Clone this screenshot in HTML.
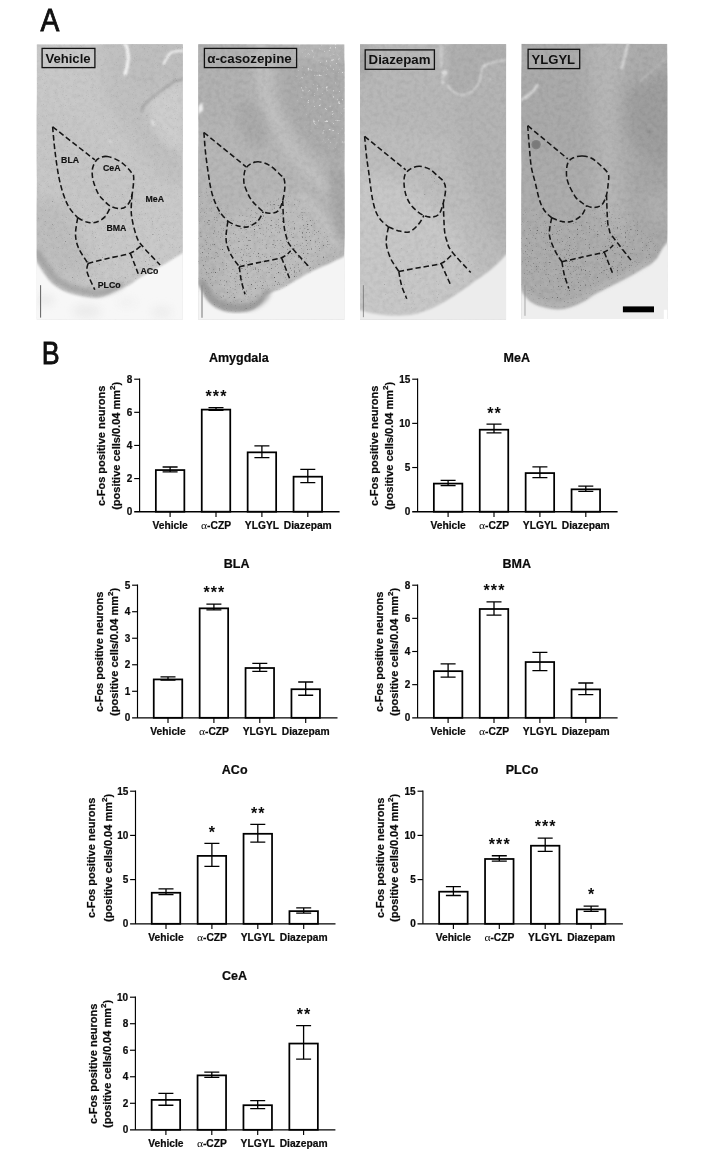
<!DOCTYPE html>
<html><head><meta charset="utf-8"><title>Figure</title>
<style>
html,body{margin:0;padding:0;background:#fff}
body{width:701px;height:1155px;overflow:hidden;font-family:"Liberation Sans", sans-serif}
svg text{font-family:"Liberation Sans", sans-serif;fill:#111}
.ch text{stroke:#111;stroke-width:0.22px;fill:#0a0a0a}
.ch text tspan.al{stroke:none}
#fig{will-change:transform}
</style></head>
<body>
<svg width="701" height="1155" id="fig" viewBox="0 0 701 1155" style="display:block">
<rect width="701" height="1155" fill="#fff"/>
<text transform="translate(40.5 31.4) scale(0.9 1)" font-size="31.4" fill="#0c0c0c" stroke="#0c0c0c" stroke-width="0.8">A</text>
<text transform="translate(41.8 363.9) scale(0.86 1)" font-size="31.2" fill="#0c0c0c" stroke="#0c0c0c" stroke-width="0.8">B</text>
<defs>
<filter id="b2" x="-20%" y="-20%" width="140%" height="140%"><feGaussianBlur stdDeviation="2"/></filter>
<filter id="b4" x="-30%" y="-30%" width="160%" height="160%"><feGaussianBlur stdDeviation="4"/></filter>
<filter id="b8" x="-40%" y="-40%" width="180%" height="180%"><feGaussianBlur stdDeviation="8"/></filter>
<filter id="b1" x="-20%" y="-20%" width="140%" height="140%"><feGaussianBlur stdDeviation="0.8"/></filter>
<filter id="grain" x="0" y="0" width="100%" height="100%">
<feTurbulence type="fractalNoise" baseFrequency="0.9" numOctaves="2" seed="7" result="n"/>
<feColorMatrix type="matrix" values="0 0 0 0 0  0 0 0 0 0  0 0 0 0 0  4 0 0 0 -2.55"/>
</filter>
<filter id="grain2" x="0" y="0" width="100%" height="100%">
<feTurbulence type="fractalNoise" baseFrequency="0.33" numOctaves="2" seed="3" result="n"/>
<feColorMatrix in="n" type="matrix" values="0 0 0 0 1  0 0 0 0 1  0 0 0 0 1  6 0 0 0 -4.0" result="d"/>
<feGaussianBlur in="SourceAlpha" stdDeviation="7" result="m"/>
<feComposite in="d" in2="m" operator="in"/>
</filter>
<filter id="specks" x="0" y="0" width="100%" height="100%">
<feTurbulence type="fractalNoise" baseFrequency="0.75" numOctaves="1" seed="11" result="n"/>
<feColorMatrix in="n" type="matrix" values="0 0 0 0 0.1  0 0 0 0 0.1  0 0 0 0 0.1  7 0 0 0 -4.6" result="d"/>
<feGaussianBlur in="SourceAlpha" stdDeviation="5" result="m"/>
<feComposite in="d" in2="m" operator="in"/>
</filter>
<filter id="specks2" x="0" y="0" width="100%" height="100%">
<feTurbulence type="fractalNoise" baseFrequency="0.7" numOctaves="1" seed="23" result="n"/>
<feColorMatrix in="n" type="matrix" values="0 0 0 0 0.12  0 0 0 0 0.12  0 0 0 0 0.12  0 7 0 0 -4.9" result="d"/>
<feGaussianBlur in="SourceAlpha" stdDeviation="6" result="m"/>
<feComposite in="d" in2="m" operator="in"/>
</filter>
<filter id="mottle" x="0" y="0" width="100%" height="100%">
<feTurbulence type="fractalNoise" baseFrequency="0.22" numOctaves="3" seed="5" result="n"/>
<feColorMatrix in="n" type="matrix" values="0 0 0 0 0  0 0 0 0 0  0 0 0 0 0  1.6 0 0 0 -0.62"/>
</filter>
<filter id="mottleW" x="0" y="0" width="100%" height="100%">
<feTurbulence type="fractalNoise" baseFrequency="0.25" numOctaves="3" seed="9" result="n"/>
<feColorMatrix in="n" type="matrix" values="0 0 0 0 1  0 0 0 0 1  0 0 0 0 1  0 1.6 0 0 -0.62"/>
</filter>
</defs>
<svg x="36.6" y="44.2" width="146.2" height="275.6" viewBox="0 0 146.2 275.6" overflow="hidden">
<rect width="146.2" height="275.6" fill="#c8c8c8"/>
<g filter="url(#b8)">
<path d="M60 -10 L150 -10 L150 150 L120 130 L95 95 L70 60Z" fill="#c0c0c0"/>
<path d="M-10 60 L40 70 L90 120 L110 180 L60 170 L-10 120Z" fill="#c6c6c6"/>
<path d="M-10 150 L30 160 L60 230 L20 235 L-10 200Z" fill="#bdbdbd"/>
<path d="M100 150 L150 140 L150 215 L110 220Z" fill="#c9c9c9"/>
</g>
<path d="M93 -2 L148 -2 L148 33 L125 42 L112 52 L101 37 L94 30Z" fill="#bebebe" filter="url(#b2)"/>
<path d="M112 55 L126 47 L138 39 L148 37 L148 110 L128 100 L112 75Z" fill="#cdcdcd" filter="url(#b4)"/>
<g filter="url(#b1)" fill="none" stroke-linecap="round">
<path d="M88.3 -1 C91.5 5 92.2 10 91.6 16 S90 26 88.6 29.5" stroke="#f4f4f4" stroke-width="3.4"/>
<path d="M127 19.5 L133 9.5 Q136 6.8 147 6.6" stroke="#eeeeee" stroke-width="2.6"/>
<path d="M104.7 66.8 Q106.5 60.5 111.3 57.3 Q118 50.5 125.7 45.3 T137.7 36.9 L147 35" stroke="#a4a4a4" stroke-width="2.7" opacity="0.85"/>
<path d="M94 30.5 Q96 34.5 101 35.3 L117 34.6" stroke="#b0b0b0" stroke-width="1.2"/>
<path d="M115.6 76.6 L117.2 81" stroke="#f2f2f2" stroke-width="1.3"/>
<path d="M73 96.5 L74 97.5" stroke="#e8e8e8" stroke-width="1.5"/>
</g>
<rect width="146.2" height="275.6" filter="url(#grain)" opacity="0.09"/>
<rect width="146.2" height="275.6" filter="url(#mottle)" opacity="0.05"/><rect width="146.2" height="275.6" filter="url(#mottleW)" opacity="0.05"/>
<path d="M0 140 L40 150 L95 150 L140 190 L146 215 L100 236 L60 254 L30 247 L0 215Z" fill="#000" filter="url(#specks2)" opacity="0.55"/>
<path d="M-3.0 211.0C-1.9 213.0 0.3 218.3 3.4 223.0C6.5 227.7 11.1 234.9 15.4 239.0C19.7 243.1 24.8 245.5 29.4 247.6C34.0 249.7 38.3 250.5 43.3 251.5C48.3 252.5 54.6 253.7 59.3 253.5C64.0 253.3 67.3 252.0 71.3 250.5C75.3 249.0 79.6 246.2 83.3 244.6C87.0 242.9 90.0 242.4 93.3 240.6C96.6 238.8 98.3 236.6 103.3 233.6C108.3 230.6 116.6 226.4 123.2 222.6C129.8 218.8 138.7 213.4 143.2 210.6C147.7 207.8 148.9 206.8 150.0 206.0 L150 290 L-5 290Z" fill="#f7f7f7" filter="url(#b1)"/>
<g filter="url(#b4)" opacity="0.6"><ellipse cx="9" cy="256" rx="8" ry="5" fill="#dedede"/><ellipse cx="50" cy="267" rx="14" ry="7" fill="#e3e3e3"/><ellipse cx="125" cy="268" rx="10" ry="6" fill="#e6e6e6"/><ellipse cx="90" cy="258" rx="10" ry="4" fill="#ebebeb"/></g>
<path d="M-3.0 211.0C-1.9 213.0 0.3 218.3 3.4 223.0C6.5 227.7 11.1 234.9 15.4 239.0C19.7 243.1 24.8 245.5 29.4 247.6C34.0 249.7 38.3 250.5 43.3 251.5C48.3 252.5 54.6 253.7 59.3 253.5C64.0 253.3 67.3 252.0 71.3 250.5C75.3 249.0 81.3 245.6 83.3 244.6" fill="none" stroke="#8c8c8c" stroke-width="7" filter="url(#b2)" opacity="0.55" transform="translate(3,-5)"/>
<g fill="none" stroke="#161616" stroke-width="1.55" stroke-dasharray="5.5 2.9" stroke-linejoin="round"><path d="M16.0 82.6C16.4 86.8 17.4 99.6 18.5 108.0C19.6 116.4 20.8 125.9 22.3 133.2C23.8 140.5 25.6 146.8 27.4 151.9C29.2 157.0 30.7 160.4 33.0 164.0C35.3 167.6 39.8 172.0 41.1 173.6"/><path d="M16.0 82.6L58.3 115.7"/><path d="M41.1 173.6C42.6 174.3 47.0 177.1 50.0 177.8C53.0 178.6 56.3 179.0 59.4 178.1C62.5 177.2 66.0 175.1 68.5 172.4C71.0 169.7 73.2 163.8 74.2 162.1"/><path d="M70.8 112.3C66.9 111.8 63.5 113.0 61.0 115.0C58.5 117.0 56.8 120.5 56.0 124.0C55.2 127.5 55.5 131.7 56.5 136.0C57.5 140.3 59.8 146.1 61.7 149.6C63.6 153.1 65.9 154.9 68.0 157.0C70.1 159.1 71.5 160.9 74.2 162.1C77.0 163.3 81.6 164.8 84.5 164.4C87.4 164.1 89.7 162.4 91.5 160.0C93.3 157.6 94.6 154.4 95.5 150.0C96.4 145.6 97.2 137.2 97.1 133.6C97.0 130.0 96.9 130.9 94.8 128.3C92.7 125.7 88.5 120.7 84.5 118.0C80.5 115.3 74.7 112.8 70.8 112.3Z"/><path d="M95.5 150.0C95.4 153.3 94.1 163.3 94.8 170.1C95.5 176.9 97.7 185.4 99.4 190.6C101.1 195.8 101.1 196.0 105.1 201.0C109.1 206.0 120.4 217.5 123.5 220.8"/><path d="M41.1 173.6C40.7 176.4 38.7 185.5 38.9 190.6C39.1 195.7 40.1 199.6 42.2 204.4C44.3 209.2 49.9 216.7 51.4 219.2"/><path d="M51.4 219.2C54.8 218.3 65.0 215.7 72.0 214.0C79.0 212.3 88.2 211.1 93.7 208.9C99.2 206.7 103.2 202.3 105.1 201.0"/><path d="M51.4 219.2C51.3 220.7 49.5 223.6 50.6 228.0C51.7 232.4 56.9 242.6 58.2 245.5"/><path d="M93.7 208.9L101.6 229.5"/></g>
<g font-size="8.75" font-weight="bold" fill="#0c0c0c" stroke="#0c0c0c" stroke-width="0.15"><text x="24.5" y="118.8">BLA</text><text x="66.4" y="126.8">CeA</text><text x="108.9" y="157.9">MeA</text><text x="69.9" y="186.9">BMA</text><text x="103.8" y="229.6">ACo</text><text x="61.2" y="244">PLCo</text></g>
<path d="M4.0 241V273.4" stroke="#3a3a3a" stroke-width="0.8"/>
<rect x="5.5" y="4.2" width="52.8" height="19.2" fill="none" stroke="#111" stroke-width="1.3"/>
<text x="31.4" y="18.450000000000003" text-anchor="middle" font-size="13.1" font-weight="bold" fill="#0a0a0a">Vehicle</text>
</svg>
<svg x="198.2" y="44.2" width="146.6" height="275.6" viewBox="0 0 146.6 275.6" overflow="hidden">
<rect width="146.2" height="275.6" fill="#b5b5b5"/>
<g filter="url(#b8)">
<path d="M-10 -10 L50 -10 L55 60 L20 80 L-10 70Z" fill="#b1b1b1"/>
<path d="M-10 100 L40 105 L80 150 L80 200 L20 190 L-10 150Z" fill="#b6b6b6"/>
<path d="M30 170 L95 150 L135 200 L110 235 L60 262 L20 250Z" fill="#bdbdbd"/>
</g>
<g filter="url(#b4)">
<path d="M82 18 L148 18 L148 122 L122 112 L97 86 L82 55Z" fill="#ababab"/>
<ellipse cx="54" cy="80" rx="13" ry="25" transform="rotate(-22 54 80)" fill="#a9a9a9"/>
<path d="M66 -5 Q58 40 84 89 T150 152" fill="none" stroke="#c0c0c0" stroke-width="13"/>
<path d="M128 120 L150 128 L150 200 L138 195Z" fill="#a6a6a6"/>
<path d="M100 150 Q125 170 140 205" fill="none" stroke="#c4c4c4" stroke-width="8"/>
</g>
<rect width="146.2" height="275.6" filter="url(#mottle)" opacity="0.08"/><rect width="146.2" height="275.6" filter="url(#mottleW)" opacity="0.07"/>
<path d="M0 140 L30 170 L65 160 L88 150 L125 185 L138 212 L100 236 L68 252 L55 268 L28 270 L2 252 L0 245Z" fill="#000" filter="url(#specks)" opacity="0.9"/>
<path d="M-3.0 236.0C-2.5 236.8 -1.2 239.2 0.0 241.0C1.2 242.8 2.3 244.2 4.0 247.0C5.7 249.8 7.6 254.6 10.4 257.6C13.2 260.6 16.7 263.2 20.9 265.0C25.1 266.8 30.4 267.9 35.7 268.1C41.0 268.3 48.0 267.6 52.6 266.0C57.2 264.4 60.6 261.1 63.1 258.6C65.6 256.1 65.8 252.5 67.4 250.8C69.0 249.2 69.8 249.8 72.6 248.7C75.4 247.5 79.9 246.1 84.3 243.9C88.7 241.7 94.1 238.2 99.0 235.4C103.9 232.6 108.5 229.6 113.8 227.0C119.1 224.4 126.5 221.5 130.7 219.6C134.9 217.7 136.7 216.6 139.2 215.4C141.7 214.2 143.7 213.1 145.5 212.2C147.3 211.3 149.2 210.4 150.0 210.0 L150 290 L-5 290Z" fill="#f4f4f4" filter="url(#b1)"/>
<path d="M0.0 241.0C0.7 242.0 2.3 244.2 4.0 247.0C5.7 249.8 7.6 254.6 10.4 257.6C13.2 260.6 16.7 263.2 20.9 265.0C25.1 266.8 30.4 267.9 35.7 268.1C41.0 268.3 48.0 267.6 52.6 266.0C57.2 264.4 60.6 261.1 63.1 258.6C65.6 256.1 66.7 252.1 67.4 250.8" fill="none" stroke="#8e8e8e" stroke-width="7" filter="url(#b2)" opacity="0.7" transform="translate(2.5,-4.5)"/>
<path d="M100 -10 L160 -10 L160 112 L128 100 L104 70 L96 30Z" fill="#000" filter="url(#grain2)" opacity="0.6"/>
<path d="M0 62 L4 58 L5 66 L0 70Z" fill="#eee" filter="url(#b1)"/>
<g fill="none" stroke="#161616" stroke-width="1.55" stroke-dasharray="5.5 2.9" stroke-linejoin="round"><path d="M5.7 88.3C6.0 91.9 6.7 103.0 7.5 110.0C8.3 117.0 9.4 124.6 10.3 130.6C11.2 136.6 11.9 141.3 13.0 146.0C14.1 150.7 15.5 154.9 17.1 158.7C18.7 162.5 20.4 165.9 22.5 169.0C24.6 172.1 28.5 175.7 29.7 177.0"/><path d="M5.7 88.3L47.9 122.6"/><path d="M29.7 177.0C31.2 177.8 35.8 180.6 39.0 181.5C42.2 182.4 45.7 183.4 49.1 182.7C52.5 181.9 56.7 179.6 59.4 177.0C62.1 174.4 64.1 169.0 65.1 167.4"/><path d="M60.5 117.6C57.2 117.3 54.3 118.6 52.0 120.0C49.7 121.4 47.8 123.0 46.8 126.0C45.8 129.0 45.3 134.5 45.7 138.2C46.1 141.9 47.7 145.0 49.0 148.0C50.3 151.0 51.9 154.1 53.6 156.4C55.3 158.7 57.1 160.2 59.0 162.0C60.9 163.8 62.9 166.2 65.1 167.4C67.2 168.6 69.4 169.1 71.9 169.0C74.4 168.9 77.8 168.8 79.9 166.7C82.0 164.6 83.4 160.4 84.5 156.4C85.6 152.4 86.5 146.5 86.7 142.7C86.9 138.9 86.2 135.4 85.6 133.6C85.0 131.8 85.6 133.7 83.3 131.7C81.0 129.7 75.7 123.8 71.9 121.5C68.1 119.2 63.8 117.8 60.5 117.6Z"/><path d="M84.5 156.4C84.7 160.2 85.0 173.4 85.6 179.3C86.2 185.2 86.8 188.2 88.0 192.0C89.2 195.8 88.5 196.8 92.5 202.1C96.5 207.4 108.7 220.2 111.9 223.8"/><path d="M29.7 177.0C29.4 179.2 28.2 186.2 28.0 190.0C27.8 193.8 27.7 196.3 28.5 199.8C29.3 203.3 30.9 207.2 33.0 211.0C35.1 214.8 39.8 220.7 41.1 222.6"/><path d="M41.1 222.6C44.6 221.8 55.0 219.5 62.0 218.0C69.0 216.5 78.2 215.4 83.3 213.5C88.4 211.6 91.0 207.8 92.5 206.7"/><path d="M41.1 222.6C41.4 224.8 42.0 231.4 43.0 236.0C44.0 240.6 46.2 247.7 46.8 250.0"/><path d="M83.3 213.5L91.3 234.1"/></g>
<path d="M3.8 241V273.5" stroke="#8a8a8a" stroke-width="1.2"/>
<rect x="6.2" y="4.2" width="92.2" height="19.2" fill="none" stroke="#111" stroke-width="1.3"/>
<text x="51.300000000000004" y="18.450000000000003" text-anchor="middle" font-size="13.35" font-weight="bold" fill="#0a0a0a">α-casozepine</text>
</svg>
<svg x="360.0" y="44.2" width="146.1" height="275.6" viewBox="0 0 146.1 275.6" overflow="hidden">
<rect width="146.2" height="275.6" fill="#bcbcbc"/>
<g filter="url(#b8)">
<path d="M-10 -10 L160 -10 L160 70 L100 95 L40 85 L-10 80Z" fill="#b7b7b7"/>
<path d="M88 -10 L160 -10 L160 225 L128 185 L100 115Z" fill="#b3b3b3"/>
<path d="M-10 125 L50 140 L95 180 L118 232 L60 285 L-10 285Z" fill="#c7c7c7"/>
<path d="M-10 5 L8 5 L8 30 L-10 30Z" fill="#9a9a9a"/>
</g>
<path d="M90 -5 L150 -5 L150 14 L128 19 L122 24 L120 35 L113 46 L103 50 L93 47 L88 40Z" fill="#aeaeae" filter="url(#b2)"/>
<g filter="url(#b1)" fill="none">
<path d="M87.6 40.1 Q89 45 92.9 47.5 Q98 51.5 103.5 50.7 Q110 49.5 114 45.4 Q119 40 120.4 33.8 L122.5 23.2 Q124 20.5 126.7 20.1 Q136 17 146.5 15.7" stroke="#dedede" stroke-width="1.25"/>
<path d="M81.3 -1 V23" stroke="#cbcbcb" stroke-width="3"/>
<circle cx="84.5" cy="28.5" r="2.7" fill="#e0e0e0"/><circle cx="82.8" cy="38" r="1.8" fill="#dcdcdc"/><circle cx="124.6" cy="21.1" r="1.9" fill="#e0e0e0"/><circle cx="129.9" cy="34.8" r="1.1" fill="#d6d6d6"/>
<circle cx="83" cy="33" r="1.3" fill="#d4d4d4"/>
</g>
<rect width="146.2" height="275.6" filter="url(#mottle)" opacity="0.07"/><rect width="146.2" height="275.6" filter="url(#mottleW)" opacity="0.07"/>
<path d="M48 128 L80 128 L84 165 L55 168Z M20 200 L110 200 L125 230 L60 265 L20 260Z" fill="#000" filter="url(#specks2)" opacity="0.45"/>
<path d="M-3.0 265.5C-2.3 265.6 -0.5 266.0 1.0 266.3C2.5 266.6 4.0 266.8 6.0 267.3C8.0 267.8 8.4 268.5 12.7 269.2C17.0 269.9 25.0 271.1 31.7 271.3C38.4 271.5 46.5 271.4 52.8 270.3C59.1 269.2 64.4 267.1 69.7 265.0C75.0 262.9 79.6 260.4 84.5 257.6C89.4 254.8 94.3 251.4 99.2 248.1C104.1 244.8 109.1 241.0 114.0 237.5C118.9 234.0 124.6 230.3 128.8 227.0C133.0 223.7 136.6 220.2 139.4 217.5C142.2 214.8 143.9 212.8 145.7 211.1C147.5 209.3 149.3 207.7 150.0 207.0 L150 290 L-5 290Z" fill="#ececec" filter="url(#b1)"/>
<g fill="none" stroke="#161616" stroke-width="1.55" stroke-dasharray="5.5 2.9" stroke-linejoin="round"><path d="M4.6 92.2C4.9 95.5 5.8 105.6 6.5 112.0C7.2 118.4 8.5 125.9 9.1 130.6C9.7 135.3 9.7 136.3 10.3 140.4C10.9 144.5 11.6 150.4 12.5 155.0C13.4 159.6 14.6 164.3 16.0 167.8C17.4 171.3 18.9 173.5 21.0 176.0C23.1 178.5 27.2 181.6 28.5 182.7"/><path d="M4.6 92.2L45.7 125.6"/><path d="M28.5 182.7C30.1 183.3 34.6 185.7 38.0 186.5C41.4 187.3 45.7 188.7 49.1 187.7C52.5 186.7 55.7 183.1 58.2 180.4C60.7 177.7 63.0 172.8 63.9 171.3"/><path d="M59.4 122.1C56.3 122.0 53.4 123.1 51.0 124.5C48.6 125.9 46.1 127.9 45.0 130.6C43.9 133.2 43.9 137.0 44.1 140.4C44.3 143.8 45.0 147.8 46.0 151.0C47.0 154.2 48.5 157.3 50.2 159.9C52.0 162.5 54.2 164.6 56.5 166.5C58.8 168.4 61.5 170.2 63.9 171.3C66.3 172.4 68.3 173.1 70.8 172.9C73.3 172.7 76.7 172.5 78.8 170.1C80.9 167.7 82.2 162.9 83.3 158.7C84.4 154.5 85.6 148.6 85.6 145.0C85.6 141.4 84.6 139.2 83.3 137.0C82.0 134.8 79.9 133.7 77.6 131.7C75.3 129.7 72.6 126.5 69.6 124.9C66.6 123.3 62.5 122.2 59.4 122.1Z"/><path d="M83.3 158.7C83.5 163.3 83.9 179.7 84.5 186.1C85.1 192.5 85.9 193.6 87.0 197.0C88.1 200.4 87.3 201.5 91.3 206.7C95.2 211.9 107.5 224.7 110.7 228.3"/><path d="M28.5 182.7C28.2 184.4 26.8 189.8 26.5 193.0C26.2 196.2 25.9 198.4 26.7 202.1C27.4 205.8 29.0 210.8 31.0 215.0C33.0 219.2 37.5 225.2 38.8 227.2"/><path d="M38.8 227.2C42.3 226.5 53.0 224.6 60.0 223.3C67.0 222.0 75.8 221.2 81.0 219.2C86.2 217.2 89.6 212.5 91.3 211.2"/><path d="M38.8 227.2C39.2 229.5 40.2 236.4 41.5 241.0C42.8 245.6 45.9 252.3 46.8 254.6"/><path d="M81.0 219.2L90.2 239.8"/></g>
<path d="M3.4 241V273" stroke="#555" stroke-width="0.6"/>
<rect x="5.2" y="5.7" width="69.2" height="19.4" fill="none" stroke="#111" stroke-width="1.3"/>
<text x="39.50000000000001" y="19.65" text-anchor="middle" font-size="13.25" font-weight="bold" fill="#0a0a0a">Diazepam</text>
</svg>
<svg x="521.3" y="43.8" width="146.1" height="275.3" viewBox="0 0 146.1 275.3" overflow="hidden">
<rect width="146.2" height="275.6" fill="#ababab"/>
<g filter="url(#b8)">
<path d="M66 -10 L104 -10 L100 40 L97 85 L100 140 L104 200 L70 200 L76 120 L70 50Z" fill="#b6b6b6"/>
<path d="M102 45 L160 20 L160 125 L125 118 L104 90Z" fill="#9d9d9d"/>
<path d="M-10 25 L60 30 L66 110 L-10 120Z" fill="#a9a9a9"/>
<path d="M-10 130 L60 140 L100 200 L80 262 L-10 245Z" fill="#acacac"/>
<path d="M110 120 L160 125 L160 200 L122 192Z" fill="#a5a5a5"/>
<path d="M122 150 L150 150 L150 185 L128 180Z" fill="#b0b0b0"/>
</g>
<g filter="url(#b1)" fill="none" stroke-linecap="round">
<path d="M106.8 -1 Q105 7 103.5 12.7 T100.4 24" stroke="#d9d9d9" stroke-width="2.6"/>
<path d="M-1 56 Q4.5 54 8.4 50.7 T15.6 41.6" stroke="#d6d6d6" stroke-width="3"/>
<path d="M118.2 38 L135.1 23.2 L147.8 11.6" stroke="#b9b9b9" stroke-width="1.6"/>
<circle cx="128" cy="88" r="2" fill="#8e8e8e" stroke="none"/>
</g>
<rect width="146.2" height="275.6" filter="url(#mottle)" opacity="0.08"/><rect width="146.2" height="275.6" filter="url(#mottleW)" opacity="0.06"/>
<path d="M0 165 L30 174 L60 175 L90 160 L140 200 L135 212 L117 227 L83 246 L53 263 L19 264 L0 246Z" fill="#000" filter="url(#specks)" opacity="0.85"/>
<path d="M-3.0 242.0C-2.5 242.7 -0.8 245.2 0.0 246.4C0.8 247.7 0.7 247.8 2.1 249.5C3.5 251.2 5.6 254.8 8.4 256.9C11.2 259.0 14.4 260.8 19.0 262.2C23.6 263.6 30.6 265.3 35.9 265.4C41.2 265.5 46.1 264.0 50.7 262.6C55.3 261.2 59.4 259.0 63.3 256.9C67.2 254.8 69.7 252.4 73.9 250.0C78.1 247.6 83.4 245.1 88.7 242.4C94.0 239.7 100.7 236.5 105.6 233.9C110.5 231.3 114.3 228.9 118.2 226.7C122.1 224.4 126.0 222.3 128.8 220.4C131.6 218.5 133.6 216.7 135.1 215.1C136.6 213.5 136.6 212.9 137.7 211.1C138.8 209.3 140.2 206.1 141.5 204.1C142.8 202.1 144.3 200.4 145.7 198.9C147.1 197.4 149.3 195.7 150.0 195.0 L150 290 L-5 290Z" fill="#eeeeee" filter="url(#b1)"/>
<path d="M0.0 246.4C0.4 246.9 0.7 247.8 2.1 249.5C3.5 251.2 5.6 254.8 8.4 256.9C11.2 259.0 14.4 260.8 19.0 262.2C23.6 263.6 30.6 265.3 35.9 265.4C41.2 265.5 46.1 264.0 50.7 262.6C55.3 261.2 59.4 259.0 63.3 256.9C67.2 254.8 69.7 252.4 73.9 250.0C78.1 247.6 83.4 245.1 88.7 242.4C94.0 239.7 100.7 236.5 105.6 233.9C110.5 231.3 114.3 228.9 118.2 226.7C122.1 224.4 127.0 221.4 128.8 220.4" fill="none" stroke="#b9b9b9" stroke-width="5" filter="url(#b2)" opacity="0.7" transform="translate(0,-4)"/>
<circle cx="14.8" cy="100.8" r="4.7" fill="#808080"/><circle cx="14.8" cy="100.8" r="3.4" fill="#7a7a7a"/>
<g fill="none" stroke="#161616" stroke-width="1.55" stroke-dasharray="5.5 2.9" stroke-linejoin="round"><path d="M6.4 81.9C6.7 85.4 7.4 96.3 8.0 103.0C8.6 109.7 9.1 117.1 9.8 121.9C10.5 126.8 11.3 128.9 12.1 132.1C12.9 135.2 13.6 137.5 14.4 140.8C15.2 144.1 16.1 148.6 17.0 152.0C17.9 155.4 18.9 158.7 20.1 161.4C21.4 164.2 22.8 166.4 24.5 168.5C26.2 170.6 29.4 173.1 30.4 174.0"/><path d="M6.4 81.9L46.4 115.0"/><path d="M30.4 174.0C32.0 174.6 36.8 176.9 40.0 177.5C43.2 178.1 46.4 178.8 49.8 177.8C53.1 176.8 57.5 174.3 60.1 171.7C62.7 169.0 64.4 163.5 65.3 161.9"/><path d="M61.2 112.3C58.2 112.2 54.5 112.8 52.0 114.0C49.5 115.2 47.5 116.8 46.4 119.6C45.3 122.4 45.0 127.5 45.2 131.0C45.4 134.5 46.0 137.1 47.5 140.8C49.0 144.5 52.3 150.5 54.3 153.4C56.3 156.3 57.7 156.6 59.5 158.0C61.3 159.4 63.1 161.0 65.3 161.9C67.5 162.8 70.0 163.9 72.6 163.7C75.1 163.5 78.5 163.0 80.6 160.9C82.7 158.8 84.1 154.8 85.2 151.1C86.3 147.4 86.7 142.1 87.0 138.6C87.3 135.1 88.2 132.8 86.8 129.8C85.3 126.8 81.0 123.2 78.3 120.7C75.5 118.2 73.1 115.9 70.3 114.5C67.5 113.1 64.2 112.4 61.2 112.3Z"/><path d="M85.2 151.1C85.4 155.5 85.8 171.6 86.3 177.4C86.8 183.2 87.2 183.5 88.0 186.0C88.8 188.5 87.0 186.8 90.9 192.2C94.8 197.6 108.0 214.1 111.4 218.5"/><path d="M30.4 174.0C30.0 176.8 27.5 185.6 28.1 191.1C28.7 196.6 31.7 202.6 33.8 207.1C35.9 211.6 39.5 216.2 40.6 218.0"/><path d="M40.6 218.0C44.2 217.2 55.0 214.6 62.0 213.0C69.0 211.4 77.9 210.1 82.9 208.2C87.9 206.3 90.5 202.5 92.0 201.4"/><path d="M40.6 218.0C41.0 220.2 41.9 226.6 43.0 231.0C44.1 235.4 46.8 242.4 47.5 244.7"/><path d="M82.9 208.2L91.3 229.4"/></g>
<rect x="101.6" y="262.6" width="31.1" height="5.9" fill="#000"/>
<path d="M142.5 266 H146.2 V275.6 H142.5Z" fill="#fff"/>
<path d="M3.7 241V272" stroke="#888" stroke-width="0.7"/>
<rect x="6.8" y="5.5" width="51.6" height="19.3" fill="none" stroke="#111" stroke-width="1.3"/>
<text x="32.0" y="19.900000000000002" text-anchor="middle" font-size="13.1" font-weight="bold" fill="#0a0a0a">YLGYL</text>
</svg>
<g class="ch">
<rect x="155.85" y="470.07" width="28.50" height="41.63" fill="#fff" stroke="#000" stroke-width="1.75"/>
<path d="M170.10 466.98V471.95M162.60 466.98H177.60M162.60 471.95H177.60" stroke="#000" stroke-width="1.3" fill="none"/>
<rect x="201.75" y="409.61" width="28.50" height="102.09" fill="#fff" stroke="#000" stroke-width="1.75"/>
<path d="M216.00 407.69V410.34M208.50 407.69H223.50M208.50 410.34H223.50" stroke="#000" stroke-width="1.3" fill="none"/>
<rect x="247.65" y="452.34" width="28.50" height="59.36" fill="#fff" stroke="#000" stroke-width="1.75"/>
<path d="M261.90 445.95V457.54M254.40 445.95H269.40M254.40 457.54H269.40" stroke="#000" stroke-width="1.3" fill="none"/>
<rect x="293.55" y="476.69" width="28.50" height="35.01" fill="#fff" stroke="#000" stroke-width="1.75"/>
<path d="M307.80 469.47V482.72M300.30 469.47H315.30M300.30 482.72H315.30" stroke="#000" stroke-width="1.3" fill="none"/>
<path d="M139.60 378.50V511.70" stroke="#000" stroke-width="1.15" fill="none"/>
<path d="M134.20 511.70H339.60" stroke="#000" stroke-width="1.35" fill="none"/>
<text x="132.40" y="515.25" text-anchor="end" font-size="10" font-weight="bold">0</text>
<path d="M134.20 478.57H139.60" stroke="#000" stroke-width="1.15"/>
<text x="132.40" y="482.12" text-anchor="end" font-size="10" font-weight="bold">2</text>
<path d="M134.20 445.45H139.60" stroke="#000" stroke-width="1.15"/>
<text x="132.40" y="449.00" text-anchor="end" font-size="10" font-weight="bold">4</text>
<path d="M134.20 412.32H139.60" stroke="#000" stroke-width="1.15"/>
<text x="132.40" y="415.88" text-anchor="end" font-size="10" font-weight="bold">6</text>
<path d="M134.20 379.20H139.60" stroke="#000" stroke-width="1.15"/>
<text x="132.40" y="382.75" text-anchor="end" font-size="10" font-weight="bold">8</text>
<path d="M170.10 511.70V517.00" stroke="#000" stroke-width="1.15"/>
<text x="170.10" y="528.50" text-anchor="middle" font-size="10.25" font-weight="bold">Vehicle</text>
<path d="M216.00 511.70V517.00" stroke="#000" stroke-width="1.15"/>
<text transform="translate(201.10 528.50) scale(1.1 1)" font-size="10.6" style="stroke:none;font-family:'Liberation Serif',serif">α</text>
<text x="207.10" y="528.50" font-size="10.25" font-weight="bold">-CZP</text>
<path d="M261.90 511.70V517.00" stroke="#000" stroke-width="1.15"/>
<text x="261.90" y="528.50" text-anchor="middle" font-size="10.25" font-weight="bold">YLGYL</text>
<path d="M307.80 511.70V517.00" stroke="#000" stroke-width="1.15"/>
<text x="307.80" y="528.50" text-anchor="middle" font-size="10.25" font-weight="bold">Diazepam</text>
<text x="216.50" y="401.89" text-anchor="middle" font-size="16" letter-spacing="1.1" font-weight="bold" style="stroke:none">***</text>
<text x="238.80" y="362.10" text-anchor="middle" font-size="12.5" font-weight="bold">Amygdala</text>
<text transform="translate(105.30 445.85) rotate(-90)" text-anchor="middle" font-size="11" font-weight="bold">c-Fos positive neurons</text>
<text transform="translate(120.10 445.85) rotate(-90)" text-anchor="middle" font-size="11" font-weight="bold">(positive cells/0.04 mm<tspan dy="-5" font-size="8">2</tspan><tspan dy="5">)</tspan></text>
<rect x="433.85" y="483.59" width="28.50" height="28.11" fill="#fff" stroke="#000" stroke-width="1.75"/>
<path d="M448.10 480.34V485.64M440.60 480.34H455.60M440.60 485.64H455.60" stroke="#000" stroke-width="1.3" fill="none"/>
<rect x="479.75" y="429.71" width="28.50" height="81.99" fill="#fff" stroke="#000" stroke-width="1.75"/>
<path d="M494.00 424.07V432.91M486.50 424.07H501.50M486.50 432.91H501.50" stroke="#000" stroke-width="1.3" fill="none"/>
<rect x="525.65" y="473.08" width="28.50" height="38.62" fill="#fff" stroke="#000" stroke-width="1.75"/>
<path d="M539.90 466.83V477.69M532.40 466.83H547.40M532.40 477.69H547.40" stroke="#000" stroke-width="1.3" fill="none"/>
<rect x="571.55" y="489.33" width="28.50" height="22.37" fill="#fff" stroke="#000" stroke-width="1.75"/>
<path d="M585.80 486.08V491.38M578.30 486.08H593.30M578.30 491.38H593.30" stroke="#000" stroke-width="1.3" fill="none"/>
<path d="M417.60 378.50V511.70" stroke="#000" stroke-width="1.15" fill="none"/>
<path d="M412.20 511.70H617.60" stroke="#000" stroke-width="1.35" fill="none"/>
<text x="410.40" y="515.25" text-anchor="end" font-size="10" font-weight="bold">0</text>
<path d="M412.20 467.53H417.60" stroke="#000" stroke-width="1.15"/>
<text x="410.40" y="471.08" text-anchor="end" font-size="10" font-weight="bold">5</text>
<path d="M412.20 423.37H417.60" stroke="#000" stroke-width="1.15"/>
<text x="410.40" y="426.92" text-anchor="end" font-size="10" font-weight="bold">10</text>
<path d="M412.20 379.20H417.60" stroke="#000" stroke-width="1.15"/>
<text x="410.40" y="382.75" text-anchor="end" font-size="10" font-weight="bold">15</text>
<path d="M448.10 511.70V517.00" stroke="#000" stroke-width="1.15"/>
<text x="448.10" y="528.50" text-anchor="middle" font-size="10.25" font-weight="bold">Vehicle</text>
<path d="M494.00 511.70V517.00" stroke="#000" stroke-width="1.15"/>
<text transform="translate(479.10 528.50) scale(1.1 1)" font-size="10.6" style="stroke:none;font-family:'Liberation Serif',serif">α</text>
<text x="485.10" y="528.50" font-size="10.25" font-weight="bold">-CZP</text>
<path d="M539.90 511.70V517.00" stroke="#000" stroke-width="1.15"/>
<text x="539.90" y="528.50" text-anchor="middle" font-size="10.25" font-weight="bold">YLGYL</text>
<path d="M585.80 511.70V517.00" stroke="#000" stroke-width="1.15"/>
<text x="585.80" y="528.50" text-anchor="middle" font-size="10.25" font-weight="bold">Diazepam</text>
<text x="494.50" y="419.27" text-anchor="middle" font-size="16" letter-spacing="1.1" font-weight="bold" style="stroke:none">**</text>
<text x="516.80" y="362.10" text-anchor="middle" font-size="12.5" font-weight="bold">MeA</text>
<text transform="translate(377.90 445.85) rotate(-90)" text-anchor="middle" font-size="11" font-weight="bold">c-Fos positive neurons</text>
<text transform="translate(393.00 445.85) rotate(-90)" text-anchor="middle" font-size="11" font-weight="bold">(positive cells/0.04 mm<tspan dy="-5" font-size="8">2</tspan><tspan dy="5">)</tspan></text>
<rect x="153.75" y="679.42" width="28.50" height="38.38" fill="#fff" stroke="#000" stroke-width="1.75"/>
<path d="M168.00 676.96V680.14M160.50 676.96H175.50M160.50 680.14H175.50" stroke="#000" stroke-width="1.3" fill="none"/>
<rect x="199.65" y="608.34" width="28.50" height="109.46" fill="#fff" stroke="#000" stroke-width="1.75"/>
<path d="M213.90 604.03V609.86M206.40 604.03H221.40M206.40 609.86H221.40" stroke="#000" stroke-width="1.3" fill="none"/>
<rect x="245.55" y="668.01" width="28.50" height="49.79" fill="#fff" stroke="#000" stroke-width="1.75"/>
<path d="M259.80 663.43V671.39M252.30 663.43H267.30M252.30 671.39H267.30" stroke="#000" stroke-width="1.3" fill="none"/>
<rect x="291.45" y="689.23" width="28.50" height="28.57" fill="#fff" stroke="#000" stroke-width="1.75"/>
<path d="M305.70 682.00V695.26M298.20 682.00H313.20M298.20 695.26H313.20" stroke="#000" stroke-width="1.3" fill="none"/>
<path d="M137.50 584.50V717.80" stroke="#000" stroke-width="1.15" fill="none"/>
<path d="M132.10 717.80H337.50" stroke="#000" stroke-width="1.35" fill="none"/>
<text x="130.30" y="721.35" text-anchor="end" font-size="10" font-weight="bold">0</text>
<path d="M132.10 691.28H137.50" stroke="#000" stroke-width="1.15"/>
<text x="130.30" y="694.83" text-anchor="end" font-size="10" font-weight="bold">1</text>
<path d="M132.10 664.76H137.50" stroke="#000" stroke-width="1.15"/>
<text x="130.30" y="668.31" text-anchor="end" font-size="10" font-weight="bold">2</text>
<path d="M132.10 638.24H137.50" stroke="#000" stroke-width="1.15"/>
<text x="130.30" y="641.79" text-anchor="end" font-size="10" font-weight="bold">3</text>
<path d="M132.10 611.72H137.50" stroke="#000" stroke-width="1.15"/>
<text x="130.30" y="615.27" text-anchor="end" font-size="10" font-weight="bold">4</text>
<path d="M132.10 585.20H137.50" stroke="#000" stroke-width="1.15"/>
<text x="130.30" y="588.75" text-anchor="end" font-size="10" font-weight="bold">5</text>
<path d="M168.00 717.80V723.10" stroke="#000" stroke-width="1.15"/>
<text x="168.00" y="734.60" text-anchor="middle" font-size="10.25" font-weight="bold">Vehicle</text>
<path d="M213.90 717.80V723.10" stroke="#000" stroke-width="1.15"/>
<text transform="translate(199.00 734.60) scale(1.1 1)" font-size="10.6" style="stroke:none;font-family:'Liberation Serif',serif">α</text>
<text x="205.00" y="734.60" font-size="10.25" font-weight="bold">-CZP</text>
<path d="M259.80 717.80V723.10" stroke="#000" stroke-width="1.15"/>
<text x="259.80" y="734.60" text-anchor="middle" font-size="10.25" font-weight="bold">YLGYL</text>
<path d="M305.70 717.80V723.10" stroke="#000" stroke-width="1.15"/>
<text x="305.70" y="734.60" text-anchor="middle" font-size="10.25" font-weight="bold">Diazepam</text>
<text x="214.40" y="598.23" text-anchor="middle" font-size="16" letter-spacing="1.1" font-weight="bold" style="stroke:none">***</text>
<text x="236.70" y="568.10" text-anchor="middle" font-size="12.5" font-weight="bold">BLA</text>
<text transform="translate(103.20 651.90) rotate(-90)" text-anchor="middle" font-size="11" font-weight="bold">c-Fos positive neurons</text>
<text transform="translate(118.00 651.90) rotate(-90)" text-anchor="middle" font-size="11" font-weight="bold">(positive cells/0.04 mm<tspan dy="-5" font-size="8">2</tspan><tspan dy="5">)</tspan></text>
<rect x="433.85" y="671.16" width="28.50" height="46.64" fill="#fff" stroke="#000" stroke-width="1.75"/>
<path d="M448.10 663.93V677.19M440.60 663.93H455.60M440.60 677.19H455.60" stroke="#000" stroke-width="1.3" fill="none"/>
<rect x="479.75" y="609.00" width="28.50" height="108.79" fill="#fff" stroke="#000" stroke-width="1.75"/>
<path d="M494.00 601.78V615.04M486.50 601.78H501.50M486.50 615.04H501.50" stroke="#000" stroke-width="1.3" fill="none"/>
<rect x="525.65" y="662.04" width="28.50" height="55.75" fill="#fff" stroke="#000" stroke-width="1.75"/>
<path d="M539.90 652.33V670.56M532.40 652.33H547.40M532.40 670.56H547.40" stroke="#000" stroke-width="1.3" fill="none"/>
<rect x="571.55" y="689.39" width="28.50" height="28.41" fill="#fff" stroke="#000" stroke-width="1.75"/>
<path d="M585.80 682.99V694.60M578.30 682.99H593.30M578.30 694.60H593.30" stroke="#000" stroke-width="1.3" fill="none"/>
<path d="M417.60 584.50V717.80" stroke="#000" stroke-width="1.15" fill="none"/>
<path d="M412.20 717.80H617.60" stroke="#000" stroke-width="1.35" fill="none"/>
<text x="410.40" y="721.35" text-anchor="end" font-size="10" font-weight="bold">0</text>
<path d="M412.20 684.65H417.60" stroke="#000" stroke-width="1.15"/>
<text x="410.40" y="688.20" text-anchor="end" font-size="10" font-weight="bold">2</text>
<path d="M412.20 651.50H417.60" stroke="#000" stroke-width="1.15"/>
<text x="410.40" y="655.05" text-anchor="end" font-size="10" font-weight="bold">4</text>
<path d="M412.20 618.35H417.60" stroke="#000" stroke-width="1.15"/>
<text x="410.40" y="621.90" text-anchor="end" font-size="10" font-weight="bold">6</text>
<path d="M412.20 585.20H417.60" stroke="#000" stroke-width="1.15"/>
<text x="410.40" y="588.75" text-anchor="end" font-size="10" font-weight="bold">8</text>
<path d="M448.10 717.80V723.10" stroke="#000" stroke-width="1.15"/>
<text x="448.10" y="734.60" text-anchor="middle" font-size="10.25" font-weight="bold">Vehicle</text>
<path d="M494.00 717.80V723.10" stroke="#000" stroke-width="1.15"/>
<text transform="translate(479.10 734.60) scale(1.1 1)" font-size="10.6" style="stroke:none;font-family:'Liberation Serif',serif">α</text>
<text x="485.10" y="734.60" font-size="10.25" font-weight="bold">-CZP</text>
<path d="M539.90 717.80V723.10" stroke="#000" stroke-width="1.15"/>
<text x="539.90" y="734.60" text-anchor="middle" font-size="10.25" font-weight="bold">YLGYL</text>
<path d="M585.80 717.80V723.10" stroke="#000" stroke-width="1.15"/>
<text x="585.80" y="734.60" text-anchor="middle" font-size="10.25" font-weight="bold">Diazepam</text>
<text x="494.50" y="595.98" text-anchor="middle" font-size="16" letter-spacing="1.1" font-weight="bold" style="stroke:none">***</text>
<text x="516.80" y="568.10" text-anchor="middle" font-size="12.5" font-weight="bold">BMA</text>
<text transform="translate(383.30 651.90) rotate(-90)" text-anchor="middle" font-size="11" font-weight="bold">c-Fos positive neurons</text>
<text transform="translate(398.10 651.90) rotate(-90)" text-anchor="middle" font-size="11" font-weight="bold">(positive cells/0.04 mm<tspan dy="-5" font-size="8">2</tspan><tspan dy="5">)</tspan></text>
<rect x="151.75" y="892.75" width="28.50" height="31.05" fill="#fff" stroke="#000" stroke-width="1.75"/>
<path d="M166.00 888.88V894.63M158.50 888.88H173.50M158.50 894.63H173.50" stroke="#000" stroke-width="1.3" fill="none"/>
<rect x="197.65" y="855.89" width="28.50" height="67.91" fill="#fff" stroke="#000" stroke-width="1.75"/>
<path d="M211.90 843.36V866.34M204.40 843.36H219.40M204.40 866.34H219.40" stroke="#000" stroke-width="1.3" fill="none"/>
<rect x="243.55" y="833.79" width="28.50" height="90.01" fill="#fff" stroke="#000" stroke-width="1.75"/>
<path d="M257.80 824.35V842.03M250.30 824.35H265.30M250.30 842.03H265.30" stroke="#000" stroke-width="1.3" fill="none"/>
<rect x="289.45" y="911.14" width="28.50" height="12.66" fill="#fff" stroke="#000" stroke-width="1.75"/>
<path d="M303.70 907.89V913.19M296.20 907.89H311.20M296.20 913.19H311.20" stroke="#000" stroke-width="1.3" fill="none"/>
<path d="M135.50 790.50V923.80" stroke="#000" stroke-width="1.15" fill="none"/>
<path d="M130.10 923.80H335.50" stroke="#000" stroke-width="1.35" fill="none"/>
<text x="128.30" y="927.35" text-anchor="end" font-size="10" font-weight="bold">0</text>
<path d="M130.10 879.60H135.50" stroke="#000" stroke-width="1.15"/>
<text x="128.30" y="883.15" text-anchor="end" font-size="10" font-weight="bold">5</text>
<path d="M130.10 835.40H135.50" stroke="#000" stroke-width="1.15"/>
<text x="128.30" y="838.95" text-anchor="end" font-size="10" font-weight="bold">10</text>
<path d="M130.10 791.20H135.50" stroke="#000" stroke-width="1.15"/>
<text x="128.30" y="794.75" text-anchor="end" font-size="10" font-weight="bold">15</text>
<path d="M166.00 923.80V929.10" stroke="#000" stroke-width="1.15"/>
<text x="166.00" y="940.60" text-anchor="middle" font-size="10.25" font-weight="bold">Vehicle</text>
<path d="M211.90 923.80V929.10" stroke="#000" stroke-width="1.15"/>
<text transform="translate(197.00 940.60) scale(1.1 1)" font-size="10.6" style="stroke:none;font-family:'Liberation Serif',serif">α</text>
<text x="203.00" y="940.60" font-size="10.25" font-weight="bold">-CZP</text>
<path d="M257.80 923.80V929.10" stroke="#000" stroke-width="1.15"/>
<text x="257.80" y="940.60" text-anchor="middle" font-size="10.25" font-weight="bold">YLGYL</text>
<path d="M303.70 923.80V929.10" stroke="#000" stroke-width="1.15"/>
<text x="303.70" y="940.60" text-anchor="middle" font-size="10.25" font-weight="bold">Diazepam</text>
<text x="212.40" y="837.56" text-anchor="middle" font-size="16" letter-spacing="1.1" font-weight="bold" style="stroke:none">*</text>
<text x="258.30" y="818.55" text-anchor="middle" font-size="16" letter-spacing="1.1" font-weight="bold" style="stroke:none">**</text>
<text x="234.70" y="774.10" text-anchor="middle" font-size="12.5" font-weight="bold">ACo</text>
<text transform="translate(95.40 857.90) rotate(-90)" text-anchor="middle" font-size="11" font-weight="bold">c-Fos positive neurons</text>
<text transform="translate(112.00 857.90) rotate(-90)" text-anchor="middle" font-size="11" font-weight="bold">(positive cells/0.04 mm<tspan dy="-5" font-size="8">2</tspan><tspan dy="5">)</tspan></text>
<rect x="439.15" y="891.69" width="28.50" height="32.11" fill="#fff" stroke="#000" stroke-width="1.75"/>
<path d="M453.40 886.67V895.51M445.90 886.67H460.90M445.90 895.51H460.90" stroke="#000" stroke-width="1.3" fill="none"/>
<rect x="485.05" y="858.98" width="28.50" height="64.82" fill="#fff" stroke="#000" stroke-width="1.75"/>
<path d="M499.30 855.73V861.04M491.80 855.73H506.80M491.80 861.04H506.80" stroke="#000" stroke-width="1.3" fill="none"/>
<rect x="530.95" y="845.72" width="28.50" height="78.08" fill="#fff" stroke="#000" stroke-width="1.75"/>
<path d="M545.20 838.05V851.31M537.70 838.05H552.70M537.70 851.31H552.70" stroke="#000" stroke-width="1.3" fill="none"/>
<rect x="576.85" y="909.37" width="28.50" height="14.43" fill="#fff" stroke="#000" stroke-width="1.75"/>
<path d="M591.10 906.12V911.42M583.60 906.12H598.60M583.60 911.42H598.60" stroke="#000" stroke-width="1.3" fill="none"/>
<path d="M422.90 790.50V923.80" stroke="#000" stroke-width="1.15" fill="none"/>
<path d="M417.50 923.80H622.90" stroke="#000" stroke-width="1.35" fill="none"/>
<text x="415.70" y="927.35" text-anchor="end" font-size="10" font-weight="bold">0</text>
<path d="M417.50 879.60H422.90" stroke="#000" stroke-width="1.15"/>
<text x="415.70" y="883.15" text-anchor="end" font-size="10" font-weight="bold">5</text>
<path d="M417.50 835.40H422.90" stroke="#000" stroke-width="1.15"/>
<text x="415.70" y="838.95" text-anchor="end" font-size="10" font-weight="bold">10</text>
<path d="M417.50 791.20H422.90" stroke="#000" stroke-width="1.15"/>
<text x="415.70" y="794.75" text-anchor="end" font-size="10" font-weight="bold">15</text>
<path d="M453.40 923.80V929.10" stroke="#000" stroke-width="1.15"/>
<text x="453.40" y="940.60" text-anchor="middle" font-size="10.25" font-weight="bold">Vehicle</text>
<path d="M499.30 923.80V929.10" stroke="#000" stroke-width="1.15"/>
<text transform="translate(484.40 940.60) scale(1.1 1)" font-size="10.6" style="stroke:none;font-family:'Liberation Serif',serif">α</text>
<text x="490.40" y="940.60" font-size="10.25" font-weight="bold">-CZP</text>
<path d="M545.20 923.80V929.10" stroke="#000" stroke-width="1.15"/>
<text x="545.20" y="940.60" text-anchor="middle" font-size="10.25" font-weight="bold">YLGYL</text>
<path d="M591.10 923.80V929.10" stroke="#000" stroke-width="1.15"/>
<text x="591.10" y="940.60" text-anchor="middle" font-size="10.25" font-weight="bold">Diazepam</text>
<text x="499.80" y="849.93" text-anchor="middle" font-size="16" letter-spacing="1.1" font-weight="bold" style="stroke:none">***</text>
<text x="545.70" y="832.25" text-anchor="middle" font-size="16" letter-spacing="1.1" font-weight="bold" style="stroke:none">***</text>
<text x="591.60" y="900.32" text-anchor="middle" font-size="16" letter-spacing="1.1" font-weight="bold" style="stroke:none">*</text>
<text x="522.10" y="774.10" text-anchor="middle" font-size="12.5" font-weight="bold">PLCo</text>
<text transform="translate(383.60 857.90) rotate(-90)" text-anchor="middle" font-size="11" font-weight="bold">c-Fos positive neurons</text>
<text transform="translate(397.60 857.90) rotate(-90)" text-anchor="middle" font-size="11" font-weight="bold">(positive cells/0.04 mm<tspan dy="-5" font-size="8">2</tspan><tspan dy="5">)</tspan></text>
<rect x="151.65" y="1099.90" width="28.50" height="29.90" fill="#fff" stroke="#000" stroke-width="1.75"/>
<path d="M165.90 1093.34V1105.27M158.40 1093.34H173.40M158.40 1105.27H173.40" stroke="#000" stroke-width="1.3" fill="none"/>
<rect x="197.55" y="1075.37" width="28.50" height="54.43" fill="#fff" stroke="#000" stroke-width="1.75"/>
<path d="M211.80 1072.12V1077.42M204.30 1072.12H219.30M204.30 1077.42H219.30" stroke="#000" stroke-width="1.3" fill="none"/>
<rect x="243.45" y="1105.21" width="28.50" height="24.59" fill="#fff" stroke="#000" stroke-width="1.75"/>
<path d="M257.70 1100.63V1108.58M250.20 1100.63H265.20M250.20 1108.58H265.20" stroke="#000" stroke-width="1.3" fill="none"/>
<rect x="289.35" y="1043.55" width="28.50" height="86.25" fill="#fff" stroke="#000" stroke-width="1.75"/>
<path d="M303.60 1025.71V1059.12M296.10 1025.71H311.10M296.10 1059.12H311.10" stroke="#000" stroke-width="1.3" fill="none"/>
<path d="M135.40 996.50V1129.80" stroke="#000" stroke-width="1.15" fill="none"/>
<path d="M130.00 1129.80H335.40" stroke="#000" stroke-width="1.35" fill="none"/>
<text x="128.20" y="1133.35" text-anchor="end" font-size="10" font-weight="bold">0</text>
<path d="M130.00 1103.28H135.40" stroke="#000" stroke-width="1.15"/>
<text x="128.20" y="1106.83" text-anchor="end" font-size="10" font-weight="bold">2</text>
<path d="M130.00 1076.76H135.40" stroke="#000" stroke-width="1.15"/>
<text x="128.20" y="1080.31" text-anchor="end" font-size="10" font-weight="bold">4</text>
<path d="M130.00 1050.24H135.40" stroke="#000" stroke-width="1.15"/>
<text x="128.20" y="1053.79" text-anchor="end" font-size="10" font-weight="bold">6</text>
<path d="M130.00 1023.72H135.40" stroke="#000" stroke-width="1.15"/>
<text x="128.20" y="1027.27" text-anchor="end" font-size="10" font-weight="bold">8</text>
<path d="M130.00 997.20H135.40" stroke="#000" stroke-width="1.15"/>
<text x="128.20" y="1000.75" text-anchor="end" font-size="10" font-weight="bold">10</text>
<path d="M165.90 1129.80V1135.10" stroke="#000" stroke-width="1.15"/>
<text x="165.90" y="1146.60" text-anchor="middle" font-size="10.25" font-weight="bold">Vehicle</text>
<path d="M211.80 1129.80V1135.10" stroke="#000" stroke-width="1.15"/>
<text transform="translate(196.90 1146.60) scale(1.1 1)" font-size="10.6" style="stroke:none;font-family:'Liberation Serif',serif">α</text>
<text x="202.90" y="1146.60" font-size="10.25" font-weight="bold">-CZP</text>
<path d="M257.70 1129.80V1135.10" stroke="#000" stroke-width="1.15"/>
<text x="257.70" y="1146.60" text-anchor="middle" font-size="10.25" font-weight="bold">YLGYL</text>
<path d="M303.60 1129.80V1135.10" stroke="#000" stroke-width="1.15"/>
<text x="303.60" y="1146.60" text-anchor="middle" font-size="10.25" font-weight="bold">Diazepam</text>
<text x="304.10" y="1019.91" text-anchor="middle" font-size="16" letter-spacing="1.1" font-weight="bold" style="stroke:none">**</text>
<text x="234.60" y="980.10" text-anchor="middle" font-size="12.5" font-weight="bold">CeA</text>
<text transform="translate(96.60 1063.90) rotate(-90)" text-anchor="middle" font-size="11" font-weight="bold">c-Fos positive neurons</text>
<text transform="translate(111.30 1063.90) rotate(-90)" text-anchor="middle" font-size="11" font-weight="bold">(positive cells/0.04 mm<tspan dy="-5" font-size="8">2</tspan><tspan dy="5">)</tspan></text>
</g>
</svg>
</body></html>
